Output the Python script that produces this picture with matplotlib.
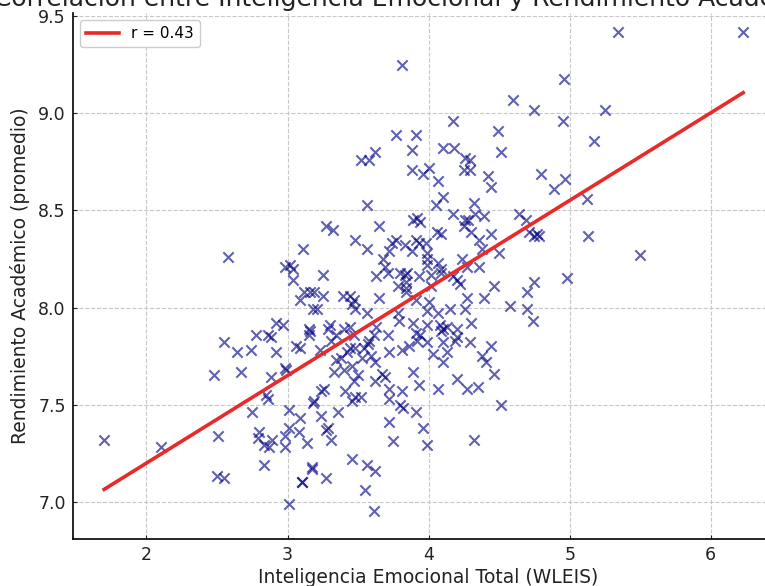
import numpy as np
import matplotlib
matplotlib.use("Agg")
import matplotlib.pyplot as plt

# valores (WLEIS total vs promedio académico)
wleis = [
    3.81, 4.60, 4.75, 4.17, 4.49, 3.77, 3.91, 3.88, 4.10, 4.18,
    3.52, 3.58, 3.62, 3.88, 3.96, 4.00, 4.07, 4.26, 4.29, 4.25,
    4.29, 4.51, 4.42, 4.44, 4.80, 5.34, 6.23, 4.96, 5.25, 4.95,
    5.17, 4.97, 4.89,
    2.58, 3.11, 2.98, 3.02, 3.04, 3.04, 3.12, 3.16, 3.09, 3.18,
    2.92, 2.97, 2.86, 2.78, 2.88, 2.55, 2.64, 2.74, 2.92, 3.06,
    3.15, 3.16,
    2.48, 2.67, 2.88, 2.98, 2.99, 2.85, 2.86, 2.75, 3.01, 3.09,
    3.18, 1.70, 2.10, 2.51, 2.80, 2.79, 2.89, 2.83, 2.87, 2.98,
    2.98, 3.01, 3.08, 3.14, 3.17, 2.83, 3.10, 2.50, 2.55, 3.01,
    3.99, 4.10, 4.19, 4.29, 4.44, 4.13, 4.03, 4.10, 4.38, 4.41,
    4.46, 4.20, 4.27, 4.35, 4.07, 4.51, 4.32, 3.99, 3.96, 3.91,
    3.82, 3.80, 3.81, 3.93, 3.89, 3.72, 3.72, 3.72, 3.75, 3.46,
    3.56, 3.62, 3.55, 3.61, 3.17, 3.27, 3.10, 3.31, 3.29, 3.27,
    3.24, 3.36, 3.19, 3.24, 3.26, 3.41, 3.46, 3.48, 3.52, 3.47,
    3.50, 3.62, 3.67, 3.69, 3.72, 3.81, 3.86, 3.92, 3.62, 3.59,
    3.57, 3.58, 3.46, 3.40, 3.33, 3.34, 3.38, 3.42, 3.44, 3.48,
    3.53, 3.23, 3.31, 3.09,
    4.10, 4.05, 4.32, 3.56, 4.17, 4.26, 4.28, 4.33, 4.39, 4.64,
    4.69, 3.89, 3.92, 3.94, 3.65, 3.27, 3.32, 4.06, 4.09, 4.25,
    4.30, 4.36, 4.44, 4.71, 4.75, 4.77, 3.48, 3.56, 3.77, 3.74,
    3.91, 3.93, 3.98, 3.83, 3.88, 3.72, 3.99, 4.38, 4.50, 4.24,
    3.99, 3.68, 3.69, 3.99, 4.07, 4.09, 4.27, 4.36, 3.80, 3.83,
    3.85, 4.02, 4.09, 3.25, 3.63, 3.71, 3.93, 4.17, 3.84, 4.20,
    4.22, 4.46, 3.78, 4.02, 4.75, 4.70, 3.84, 3.84, 3.19, 3.25,
    3.39, 3.44, 3.47, 3.46, 3.65, 3.91, 4.00, 4.27, 4.39, 4.58,
    3.21, 3.48, 3.56, 3.78, 3.79, 3.99, 4.07, 4.15, 4.26, 4.30,
    3.99, 3.89, 4.70, 4.74, 3.30, 3.34, 3.40, 3.44, 3.47, 3.63,
    3.61, 3.71, 3.15, 3.91, 3.94, 4.08, 4.10, 4.13, 4.09, 4.20,
    4.20, 3.29, 3.54,
    5.12, 4.78, 5.13, 5.50, 4.98,
]
rendimiento = [
    9.25, 9.07, 9.02, 8.96, 8.91, 8.89, 8.89, 8.81, 8.82, 8.82,
    8.76, 8.76, 8.80, 8.71, 8.69, 8.72, 8.65, 8.77, 8.76, 8.71,
    8.71, 8.80, 8.68, 8.62, 8.69, 9.42, 9.42, 9.18, 9.02, 8.96,
    8.86, 8.66, 8.61,
    8.26, 8.30, 8.21, 8.22, 8.20, 8.14, 8.08, 8.08, 8.04, 7.99,
    7.92, 7.91, 7.86, 7.86, 7.85, 7.82, 7.77, 7.78, 7.77, 7.80,
    7.89, 7.88,
    7.65, 7.67, 7.64, 7.69, 7.68, 7.55, 7.53, 7.46, 7.47, 7.43,
    7.51, 7.32, 7.28, 7.34, 7.36, 7.33, 7.32, 7.29, 7.28, 7.34,
    7.28, 7.38, 7.36, 7.30, 7.17, 7.19, 7.10, 7.13, 7.12, 6.99,
    7.82, 7.82, 7.83, 7.82, 7.80, 7.77, 7.76, 7.72, 7.75, 7.72,
    7.66, 7.63, 7.58, 7.59, 7.58, 7.50, 7.32, 7.29, 7.38, 7.46,
    7.48, 7.50, 7.57, 7.60, 7.67, 7.53, 7.58, 7.41, 7.31, 7.22,
    7.19, 7.16, 7.06, 6.95, 7.18, 7.12, 7.10, 7.32, 7.38, 7.37,
    7.44, 7.46, 7.52, 7.57, 7.58, 7.57, 7.52, 7.54, 7.54, 7.62,
    7.65, 7.62, 7.66, 7.64, 7.77, 7.78, 7.80, 7.83, 7.72, 7.75,
    7.81, 7.83, 7.70, 7.68, 7.67, 7.73, 7.74, 7.77, 7.79, 7.79,
    7.74, 7.78, 7.83, 7.79,
    8.57, 8.53, 8.54, 8.53, 8.48, 8.45, 8.45, 8.48, 8.47, 8.48,
    8.45, 8.45, 8.46, 8.44, 8.42, 8.42, 8.40, 8.39, 8.38, 8.42,
    8.39, 8.35, 8.38, 8.39, 8.37, 8.38, 8.35, 8.30, 8.35, 8.33,
    8.35, 8.33, 8.33, 8.32, 8.29, 8.29, 8.28, 8.30, 8.28, 8.25,
    8.25, 8.25, 8.21, 8.22, 8.23, 8.20, 8.21, 8.21, 8.18, 8.17,
    8.18, 8.17, 8.18, 8.17, 8.16, 8.18, 8.16, 8.16, 8.13, 8.14,
    8.12, 8.11, 8.11, 8.11, 8.13, 8.08, 8.10, 8.08, 8.08, 8.06,
    8.06, 8.06, 8.04, 8.02, 8.05, 8.04, 8.03, 8.05, 8.05, 8.01,
    7.99, 7.99, 7.97, 7.97, 7.93, 7.98, 7.97, 7.99, 7.99, 7.92,
    7.91, 7.92, 7.99, 7.93, 7.91, 7.86, 7.89, 7.90, 7.86, 7.90,
    7.86, 7.86, 7.86, 7.87, 7.86, 7.91, 7.89, 7.90, 7.88, 7.89,
    7.85, 7.89, 7.79,
    8.56, 8.37, 8.37, 8.27, 8.15,
]
r_label = "r = 0.43"

x = np.array(wleis)
y = np.array(rendimiento)
m, b = np.polyfit(x, y, 1)
xs = np.array([x.min(), x.max()])

fig = plt.figure(figsize=(7.65, 5.86), dpi=100)
ax = fig.add_axes([0.095, 0.080, 0.93, 0.898])

ax.scatter(x, y, marker="x", s=55, color="navy", alpha=0.62, linewidths=1.5, zorder=3)
ax.plot(xs, m * xs + b, color="#e82a2a", lw=2.6, label=r_label, zorder=4)

ax.set_xlim(1.477, 6.52)
ax.set_ylim(6.807, 9.518)
ax.set_xticks([2, 3, 4, 5, 6])
ax.set_yticks([7.0, 7.5, 8.0, 8.5, 9.0, 9.5])
ax.grid(True, linestyle="--", color="#c8c8c8", lw=0.8)
ax.set_axisbelow(True)
for s in ["top", "right"]:
    ax.spines[s].set_visible(False)
ax.spines["left"].set_linewidth(1.2)
ax.spines["bottom"].set_linewidth(1.2)
ax.tick_params(direction="in", length=3, labelsize=12.5, colors="#222222", pad=5)

ax.set_xlabel("Inteligencia Emocional Total (WLEIS)", fontsize=13.5, color="#222222", labelpad=3)
ax.set_ylabel("Rendimiento Académico (promedio)", fontsize=13.5, color="#222222", labelpad=6)
fig.text(-0.008, 1 - 6 / 586, "Correlación entre Inteligencia Emocional y Rendimiento Académico",
         fontsize=18, color="#222222", ha="left", va="baseline")

ax.legend(loc="upper left", fontsize=11, framealpha=1, edgecolor="#cccccc",
          borderaxespad=0.45, handlelength=2.2)

fig.savefig("out.png", dpi=100)
